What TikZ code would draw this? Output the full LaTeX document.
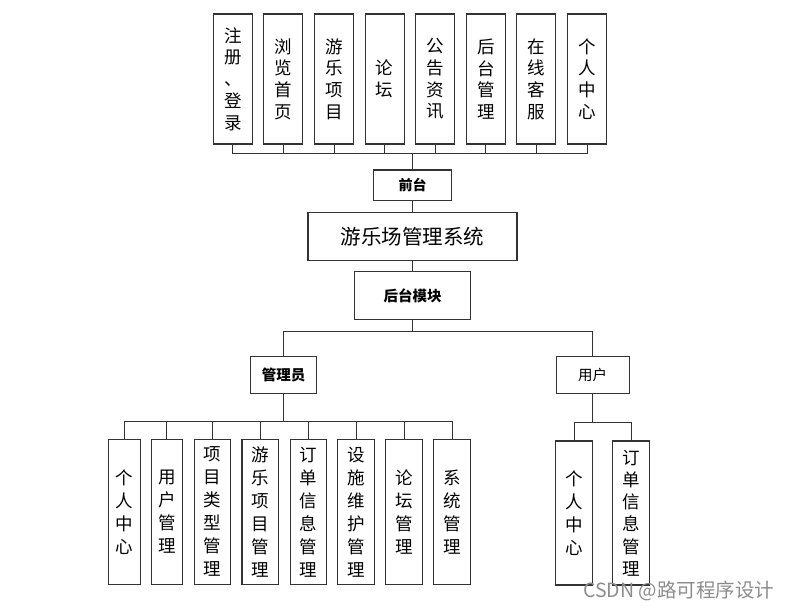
\documentclass[tikz,border=0pt]{standalone}
\usepackage{fontspec}
\setmainfont{Noto Sans CJK SC}
\begin{document}
\begin{tikzpicture}[x=1pt,y=-1pt,
  box/.style={draw=black!80,line width=1.1pt,fill=white,inner sep=0pt,align=center},
  vtop/.style={box,minimum width=39pt,minimum height=130pt,font=\fontsize{17.5}{21.7}\selectfont},
  vbot/.style={box,minimum height=145pt,font=\fontsize{17.5}{23}\selectfont},
  conn/.style={draw=black!80,line width=1pt}]
\useasboundingbox (0,0) rectangle (790,608);
% top boxes
\node[vtop] (t1) at (232.8,79) {注\\册\\、\\登\\录};
\node[vtop] (t2) at (283.4,79) {浏\\览\\首\\页};
\node[vtop] (t3) at (334.0,79) {游\\乐\\项\\目};
\node[vtop] (t4) at (384.6,79) {论\\坛};
\node[vtop] (t5) at (435.2,79) {公\\告\\资\\讯};
\node[vtop] (t6) at (485.8,79) {后\\台\\管\\理};
\node[vtop] (t7) at (536.4,79) {在\\线\\客\\服};
\node[vtop] (t8) at (587.0,79) {个\\人\\中\\心};
\coordinate (tb) at (412.5,153.7);
\node[box,minimum width=78pt,minimum height=30.7pt,font=\fontsize{14}{16}\selectfont\bfseries] (qt) at (412.5,185.3) {前台};
\node[box,minimum width=209pt,minimum height=48pt,font=\fontsize{20.5}{24}\selectfont] (sys) at (412.5,236.3) {游乐场管理系统};
\node[box,minimum width=116pt,minimum height=48.4pt,font=\fontsize{14.5}{17}\selectfont\bfseries] (ht) at (412.5,295.5) {后台模块};
\coordinate (hb) at (412.5,331.7);
\node[box,minimum width=66.4pt,minimum height=37pt,font=\fontsize{14.5}{17}\selectfont\bfseries] (adm) at (283.5,374.8) {管理员};
\node[box,minimum width=73.3pt,minimum height=37pt,font=\fontsize{14.5}{17}\selectfont] (usr) at (592.7,374.8) {用户};
% admin children
\coordinate (ab) at (283.5,421.7);
\node[vbot,minimum width=31.7pt] (a1) at (124.2,511.8) {个\\人\\中\\心};
\node[vbot,minimum width=31.7pt] (a2) at (166.9,511.8) {用\\户\\管\\理};
\node[vbot,minimum width=36.5pt] (a3) at (212.5,511.8) {项\\目\\类\\型\\管\\理};
\node[vbot,minimum width=36.5pt] (a4) at (260.2,511.8) {游\\乐\\项\\目\\管\\理};
\node[vbot,minimum width=36.5pt] (a5) at (308.3,511.8) {订\\单\\信\\息\\管\\理};
\node[vbot,minimum width=36.5pt] (a6) at (356.0,511.8) {设\\施\\维\\护\\管\\理};
\node[vbot,minimum width=36.5pt] (a7) at (404.0,511.8) {论\\坛\\管\\理};
\node[vbot,minimum width=36.5pt] (a8) at (452.0,511.8) {系\\统\\管\\理};
% user children
\coordinate (ub) at (592.7,422.5);
\node[vbot,minimum width=37pt,minimum height=144pt] (u1) at (574.2,513) {个\\人\\中\\心};
\node[vbot,minimum width=36.6pt,minimum height=144pt,font=\fontsize{17.5}{22.3}\selectfont] (u2) at (631.0,513) {订\\单\\信\\息\\管\\理};
% connectors
\foreach \i in {1,...,8} {\draw[conn] (t\i.south) |- (tb);}
\draw[conn] (tb) -- (qt.north);
\draw[conn] (qt.south) -- (sys.north);
\draw[conn] (sys.south) -- (ht.north);
\draw[conn] (ht.south) -- (hb);
\draw[conn] (adm.north) |- (hb);
\draw[conn] (usr.north) |- (hb);
\draw[conn] (adm.south) -- (ab);
\foreach \i in {1,...,8} {\draw[conn] (a\i.north) |- (ab);}
\draw[conn] (usr.south) -- (ub);
\draw[conn] (u1.north) |- (ub);
\draw[conn] (u2.north) |- (ub);
% watermark
\node[anchor=base west,text=black!45,font=\fontsize{19.5}{22}\selectfont,inner sep=0pt] (wm) at (583,597) {CSDN @路可程序设计};
\end{tikzpicture}
\end{document}
